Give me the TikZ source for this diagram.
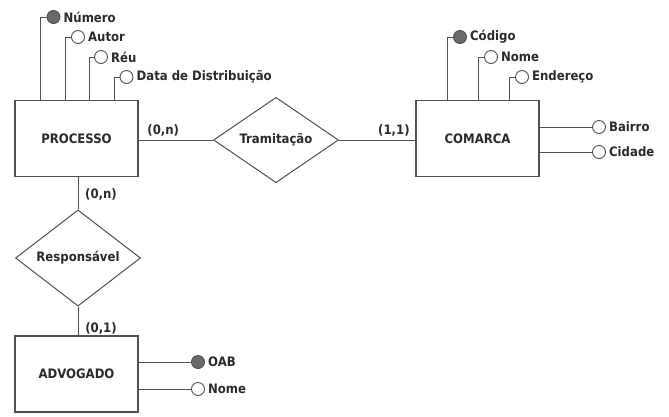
\documentclass[tikz,border=0pt]{standalone}
\usepackage{fontspec}
\setmainfont{DejaVu Sans Condensed}
\usetikzlibrary{shapes.geometric}
\definecolor{linec}{HTML}{505050}
\definecolor{keyc}{HTML}{6A6A6A}
\definecolor{txtc}{HTML}{2A2A2A}
\tikzset{
  ent/.style={draw=linec, line width=1.4pt, fill=white, minimum width=123pt, minimum height=76pt, inner sep=0pt, font=\bfseries\fontsize{13}{14}\selectfont, text=txtc},
  rel/.style={diamond, draw=linec, line width=1pt, fill=white, minimum width=125pt, minimum height=61pt, inner sep=0pt, font=\bfseries\fontsize{13}{14}\selectfont, text=txtc},
  attr/.style={circle, draw=linec, line width=0.9pt, fill=white, minimum size=13pt, inner sep=0pt},
  keyattr/.style={attr, fill=keyc},
  lab/.style={anchor=west, inner sep=3pt, font=\bfseries\fontsize{13}{14}\selectfont, text=txtc},
  card/.style={inner sep=0pt, font=\bfseries\fontsize{13}{14}\selectfont, text=txtc},
  conn/.style={draw=linec, line width=1pt}
}
\begin{document}
\begin{tikzpicture}[x=1pt, y=-1pt]
\useasboundingbox (0,0) rectangle (669,416);
% entities
\node[ent] (P) at (76.5,138.5) {PROCESSO};
\node[ent] (C) at (477.5,138.5) {COMARCA};
\node[ent] (A) at (76.5,374) {ADVOGADO};
% relationships
\node[rel] (T) at (276,140) {Tramitação};
\node[rel] (R) at (78,258) {Responsável};
% connectors
\draw[conn] (P.east |- T.west) -- node[card, above=3pt, pos=0.33] (c1) {(0,n)} (T.west);
\draw[conn] (T.east) -- node[card, above=3pt, pos=0.72] (c2) {(1,1)} (C.west |- T.east);
\draw[conn] (P.south -| R.north) -- (R.north);
\draw[conn] (R.south) -- (A.north -| R.south);
\node[card] (c3) at (101,194) {(0,n)};
\node[card] (c4) at (101,328) {(0,1)};
% PROCESSO attributes
\node[keyattr] (pnum) at (53.5,17) {};
\node[attr] (paut) at (78,37) {};
\node[attr] (preu) at (101,57) {};
\node[attr] (pdat) at (126.5,77) {};
\node[lab] (lnum) at (pnum.east) {Número};
\node[lab] (laut) at (paut.east) {Autor};
\node[lab] (lreu) at (preu.east) {Réu};
\node[lab] (ldat) at (pdat.east) {Data de Distribuição};
\coordinate (p1) at (40,100);
\coordinate (p2) at (65,100);
\coordinate (p3) at (89,100);
\coordinate (p4) at (114,100);
\draw[conn] (pnum.west) -| (p1);
\draw[conn] (paut.west) -| (p2);
\draw[conn] (preu.west) -| (p3);
\draw[conn] (pdat.west) -| (p4);
% COMARCA attributes
\node[keyattr] (ccod) at (460,37) {};
\node[attr] (cnom) at (491,57) {};
\node[attr] (cend) at (522,77) {};
\node[attr] (cbai) at (599,127) {};
\node[attr] (ccid) at (599,152) {};
\node[lab] (lcod) at (ccod.east) {Código};
\node[lab] (lcnom) at (cnom.east) {Nome};
\node[lab] (lend) at (cend.east) {Endereço};
\node[lab] (lbai) at (cbai.east) {Bairro};
\node[lab] (lcid) at (ccid.east) {Cidade};
\coordinate (q1) at (447,100);
\coordinate (q2) at (478,100);
\coordinate (q3) at (509,100);
\draw[conn] (ccod.west) -| (q1);
\draw[conn] (cnom.west) -| (q2);
\draw[conn] (cend.west) -| (q3);
\draw[conn] (cbai.west) -- (C.east |- cbai.west);
\draw[conn] (ccid.west) -- (C.east |- ccid.west);
% ADVOGADO attributes
\node[keyattr] (aoab) at (198,362) {};
\node[attr] (anom) at (198,389) {};
\node[lab] (loab) at (aoab.east) {OAB};
\node[lab] (lanom) at (anom.east) {Nome};
\draw[conn] (aoab.west) -- (A.east |- aoab.west);
\draw[conn] (anom.west) -- (A.east |- anom.west);
\end{tikzpicture}
\end{document}
